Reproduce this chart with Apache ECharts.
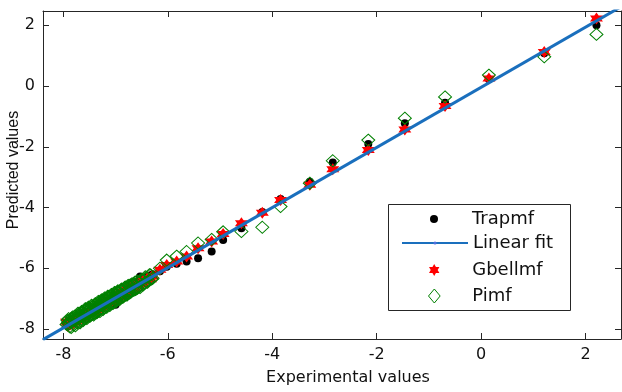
<!DOCTYPE html>
<html>
<head>
<meta charset="utf-8">
<script src="https://cdn.jsdelivr.net/npm/echarts@6/dist/echarts.min.js"></script>
<style>
  html, body { margin: 0; padding: 0; background: #fff; }
  #chart { width: 622px; height: 392px; }
</style>
</head>
<body>
<div id="chart"></div>
<script>
// experimental values, shared by the three models
const experimental = [
  2.21, 1.21, 0.15, -0.69, -1.46, -2.16, -2.84, -3.28, -3.84, -4.19,
  -4.59, -4.94, -5.16, -5.42, -5.64, -5.83, -6.02, -6.15,
  -7.94, -7.91, -7.89, -7.86, -7.83, -7.81, -7.79, -7.76, -7.74, -7.71,
  -7.69, -7.66, -7.63, -7.61, -7.58, -7.56, -7.53, -7.50, -7.48, -7.45,
  -7.43, -7.40, -7.37, -7.35, -7.31, -7.29, -7.26, -7.23, -7.21, -7.18,
  -7.14, -7.12, -7.09, -7.06, -7.03, -7.00, -6.97, -6.93, -6.90, -6.86,
  -6.83, -6.79, -6.75, -6.72, -6.68, -6.64, -6.61, -6.57, -6.53, -6.49,
  -6.45, -6.41, -6.37, -6.33, -6.29,
  -7.92, -7.88, -7.84, -7.80, -7.78, -7.73, -7.70, -7.67, -7.64, -7.60,
  -7.57, -7.54, -7.51, -7.47, -7.44, -7.41, -7.38, -7.34, -7.32, -7.28,
  -7.25, -7.22, -7.19, -7.16, -7.13, -7.10, -7.07, -7.04, -7.01, -6.98,
  -6.95, -6.92, -6.88, -6.85, -6.81, -6.77, -6.74, -6.70, -6.66, -6.62,
  -6.59, -6.55, -6.51, -6.47, -6.43, -6.39, -6.35, -6.31, -7.52, -7.36,
  -7.20, -7.08, -6.96, -6.84, -7.64, -7.44, -7.27, -6.91, -6.71, -6.58,
  -7.90, -7.85, -7.82, -7.77, -7.72, -7.68, -7.65, -7.62, -7.58, -7.55,
  -7.52, -7.49, -7.46, -7.42, -7.39, -7.36, -7.33, -7.30, -7.27, -7.24,
  -7.21, -7.17, -7.15, -7.11, -7.08, -7.05, -7.02, -6.99, -6.96, -6.92,
  -6.89, -6.86, -6.82, -6.78, -6.76, -6.73, -6.69, -6.65, -6.63, -6.60,
  -7.75, -7.60, -7.48, -7.34, -7.19, -7.06, -6.94, -6.80, -6.67, -7.87
]
const trapmf = [
  2.00, 1.08, 0.22, -0.55, -1.23, -1.91, -2.52, -3.15, -3.72, -4.15,
  -4.68, -5.07, -5.45, -5.67, -5.78, -5.85, -5.95, -6.10,
  -7.88, -7.85, -7.84, -7.80, -7.79, -7.75, -7.74, -7.70, -7.69, -7.64,
  -7.65, -7.58, -7.60, -7.53, -7.52, -7.50, -7.44, -7.46, -7.40, -7.41,
  -7.35, -7.36, -7.30, -7.31, -7.25, -7.27, -7.20, -7.21, -7.16, -7.14,
  -7.12, -7.08, -7.10, -7.02, -7.06, -7.20, -6.95, -6.90, -6.86, -6.82,
  -6.78, -6.75, -6.70, -6.68, -6.62, -6.58, -6.52, -6.48, -6.27, -6.40,
  -6.36, -6.30, -6.28, -6.24, -6.20,
  -7.85, -7.86, -7.78, -7.74, -7.76, -7.66, -7.68, -7.61, -7.62, -7.53,
  -7.55, -7.47, -7.49, -7.41, -7.43, -7.35, -7.37, -7.28, -7.31, -7.22,
  -7.24, -7.16, -7.18, -7.10, -7.12, -7.04, -7.06, -6.98, -7.00, -6.92,
  -6.94, -6.86, -6.87, -6.79, -6.80, -6.70, -6.73, -6.63, -6.60, -6.55,
  -6.50, -6.45, -6.42, -6.33, -6.32, -6.30, -6.26, -6.25, -7.50, -7.30,
  -7.19, -7.02, -6.95, -6.78, -7.62, -7.40, -7.25, -6.86, -6.62, -6.45,
  -7.83, -7.78, -7.80, -7.70, -7.66, -7.62, -7.63, -7.55, -7.56, -7.48,
  -7.50, -7.43, -7.45, -7.36, -7.38, -7.30, -7.32, -7.24, -7.26, -7.18,
  -7.20, -7.11, -7.14, -7.05, -7.07, -6.99, -7.01, -6.93, -6.95, -6.86,
  -6.88, -6.80, -6.81, -6.72, -6.75, -6.66, -6.68, -6.58, -6.61, -6.52,
  -7.73, -7.54, -7.47, -7.29, -7.18, -7.00, -6.93, -6.74, -6.66, -7.80
]
const gbellmf = [
  2.22, 1.12, 0.25, -0.66, -1.43, -2.11, -2.74, -3.25, -3.75, -4.17,
  -4.52, -4.87, -5.12, -5.34, -5.61, -5.78, -5.89, -6.05,
  -7.76, -7.86, -7.82, -7.80, -7.76, -7.79, -7.70, -7.73, -7.68, -7.66,
  -7.63, -7.60, -7.62, -7.55, -7.50, -7.53, -7.46, -7.48, -7.42, -7.44,
  -7.37, -7.39, -7.30, -7.35, -7.26, -7.28, -7.20, -7.24, -7.15, -7.19,
  -7.08, -7.12, -7.04, -7.06, -6.98, -7.01, -6.90, -6.95, -6.84, -6.87,
  -6.78, -6.81, -6.70, -6.74, -6.63, -6.67, -6.56, -6.60, -6.48, -6.53,
  -6.40, -6.44, -6.33, -6.36, -6.26,
  -7.90, -7.80, -7.82, -7.73, -7.76, -7.66, -7.68, -7.60, -7.62, -7.54,
  -7.55, -7.47, -7.49, -7.41, -7.43, -7.35, -7.37, -7.29, -7.30, -7.23,
  -7.24, -7.16, -7.18, -7.10, -7.12, -7.04, -7.06, -6.98, -7.00, -6.93,
  -6.94, -6.86, -6.87, -6.80, -6.80, -6.72, -6.73, -6.65, -6.65, -6.57,
  -6.58, -6.50, -6.50, -6.42, -6.42, -6.35, -6.35, -6.27, -7.46, -7.35,
  -7.15, -7.07, -6.91, -6.83, -7.58, -7.43, -7.21, -6.90, -6.66, -6.57,
  -7.88, -7.79, -7.75, -7.75, -7.66, -7.66, -7.59, -7.60, -7.52, -7.53,
  -7.46, -7.48, -7.41, -7.41, -7.34, -7.35, -7.28, -7.29, -7.22, -7.23,
  -7.16, -7.16, -7.10, -7.10, -7.03, -7.04, -6.97, -6.98, -6.91, -6.91,
  -6.84, -6.85, -6.77, -6.77, -6.71, -6.72, -6.64, -6.64, -6.58, -6.59,
  -7.69, -7.58, -7.43, -7.33, -7.14, -7.05, -6.89, -6.79, -6.62, -7.85
]
const pimf = [
  1.70, 0.96, 0.36, -0.36, -1.06, -1.78, -2.46, -3.20, -3.97, -4.65,
  -4.79, -4.80, -5.05, -5.17, -5.45, -5.60, -5.73, -6.00,
  -7.85, -7.80, -7.83, -7.74, -7.77, -7.68, -7.72, -7.63, -7.69, -7.58,
  -7.64, -7.55, -7.59, -7.47, -7.53, -7.44, -7.50, -7.38, -7.43, -7.35,
  -7.40, -7.27, -7.33, -7.24, -7.26, -7.17, -7.22, -7.11, -7.16, -7.05,
  -7.10, -6.98, -7.04, -6.93, -6.99, -6.87, -6.94, -6.80, -6.88, -6.74,
  -6.82, -6.66, -6.75, -6.60, -6.67, -6.52, -6.62, -6.45, -6.64, -6.38,
  -6.49, -6.30, -6.41, -6.22, -6.33,
  -7.72, -7.93, -7.64, -7.86, -7.58, -7.80, -7.50, -7.73, -7.44, -7.66,
  -7.36, -7.61, -7.30, -7.54, -7.25, -7.49, -7.18, -7.42, -7.12, -7.35,
  -7.05, -7.30, -6.99, -7.23, -6.93, -7.18, -6.87, -7.11, -6.81, -7.05,
  -6.75, -6.99, -6.69, -6.92, -6.62, -6.84, -6.56, -6.78, -6.50, -6.70,
  -6.42, -6.62, -6.37, -6.55, -6.28, -6.46, -6.21, -6.36, -7.35, -7.45,
  -7.03, -7.16, -6.80, -6.92, -7.47, -7.52, -7.10, -6.99, -6.55, -6.66,
  -7.66, -7.95, -7.60, -7.90, -7.48, -7.80, -7.42, -7.72, -7.33, -7.66,
  -7.28, -7.58, -7.22, -7.54, -7.17, -7.47, -7.09, -7.43, -7.04, -7.36,
  -6.98, -7.29, -6.92, -7.23, -6.86, -7.16, -6.80, -7.10, -6.75, -7.03,
  -6.69, -6.96, -6.62, -6.88, -6.57, -6.82, -6.52, -6.73, -6.46, -6.68,
  -7.60, -7.66, -7.33, -7.42, -7.05, -7.13, -6.80, -6.88, -6.54, -7.74
]
// linear fit end points
const fitX = [-8.39, 2.68]
const fitY = [-8.35, 2.61]

const xTicks = [-8, -6, -4, -2, 0, 2]
const yTicks = [-8, -6, -4, -2, 0, 2]

const STAR = 'path://M10,0L12.89,5L18.66,5L15.77,10L18.66,15L12.89,15L10,20L7.11,15L1.34,15L4.23,10L1.34,5L7.11,5Z'
const DIAMOND = 'path://M5,0L10,6L5,12L0,6Z'
const axisColor = '#262626'
const FONT = 'DejaVu Sans'

const pairs = (ys) => experimental.map((x, i) => [x, ys[i]])

function makeAxis(pos, min, max, ticks, showLabels) {
  return {
    type: 'value',
    position: pos,
    min, max,
    axisLine: { show: true, onZero: false, lineStyle: { color: axisColor, width: 1 } },
    axisTick: { show: true, inside: true, length: 6, customValues: ticks, lineStyle: { color: axisColor } },
    axisLabel: {
      show: showLabels,
      customValues: ticks,
      margin: 8,
      color: '#111',
      fontFamily: FONT,
      fontSize: 16,
    },
    splitLine: { show: false },
  }
}

const xBottom = makeAxis('bottom', -8.39, 2.68, xTicks, true)
Object.assign(xBottom, {
  name: 'Experimental values',
  nameLocation: 'middle',
  nameGap: 31,
  nameMoveOverlap: false,
  nameTextStyle: { color: '#111', fontFamily: FONT, fontSize: 16, padding: [0, 0, 0, 32] },
})
const yLeft = makeAxis('left', -8.33, 2.47, yTicks, true)
Object.assign(yLeft, {
  name: 'Predicted values',
  nameLocation: 'middle',
  nameGap: 21,
  nameMoveOverlap: false,
  nameTextStyle: { color: '#111', fontFamily: 'Liberation Sans', fontSize: 16, padding: [0, 0, 0, 10] },
})

// icon box is 66 wide; the legend box starts at the drawn icon's left edge
function legendFor(name, left, top, itemHeight, extra) {
  return Object.assign({
    data: [name],
    orient: 'vertical',
    left,
    top,
    padding: 0,
    itemWidth: 66,
    itemHeight,
    itemGap: 0,
    selectedMode: false,
    textStyle: { color: '#111', fontFamily: FONT, fontSize: 18 },
  }, extra || {})
}

const chart = echarts.init(document.getElementById('chart'))
chart.setOption({
  animation: false,
  backgroundColor: '#fff',
  grid: { left: 43, top: 11, right: 1, bottom: 53, containLabel: false, outerBoundsMode: 'none' },
  xAxis: [xBottom, makeAxis('top', -8.39, 2.68, xTicks, false)],
  yAxis: [yLeft, makeAxis('right', -8.33, 2.47, yTicks, false)],
  graphic: [{
    type: 'rect',
    z: 3,
    shape: { x: 388.5, y: 204.5, width: 182, height: 106 },
    style: { fill: '#fff', stroke: axisColor, lineWidth: 1 },
  }],
  legend: [
    legendFor('Trapmf', 430, 210, 8),
    legendFor('Linear fit', 401, 234, 4),
    legendFor('Gbellmf', 429, 261, 12),
    legendFor('Pimf', 428, 287, 14, { itemStyle: { borderWidth: 1 } }),
  ],
  series: [
    {
      name: 'Trapmf',
      type: 'scatter',
      data: pairs(trapmf),
      symbol: 'circle',
      symbolSize: 8,
      itemStyle: { color: '#000', opacity: 1 },
    },
    {
      name: 'Linear fit',
      type: 'line',
      data: fitX.map((x, i) => [x, fitY[i]]),
      symbol: 'none',
      lineStyle: { color: '#1a6fbd', width: 3 },
    },
    {
      name: 'Gbellmf',
      type: 'scatter',
      data: pairs(gbellmf),
      symbol: STAR,
      symbolSize: [13, 12],
      itemStyle: { color: '#ff0000', opacity: 1 },
    },
    {
      name: 'Pimf',
      type: 'scatter',
      data: pairs(pimf),
      symbol: DIAMOND,
      symbolSize: [13, 12],
      itemStyle: { color: 'rgba(0,0,0,0)', borderColor: '#008000', borderWidth: 1, opacity: 1 },
    },
  ],
})
</script>
</body>
</html>
